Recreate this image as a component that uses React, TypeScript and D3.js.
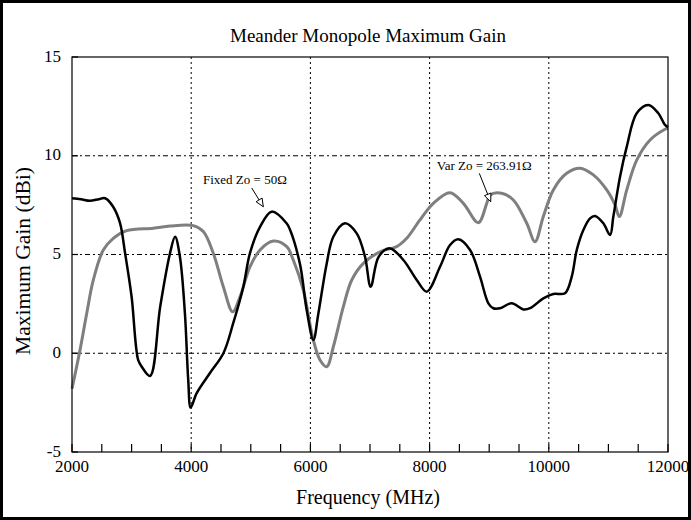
import React from "react";
import * as d3 from "d3";

// ---- data ----
const fixedFreq = [2000, 2150, 2300, 2450, 2555, 2690, 2805, 2890, 3000, 3110, 3170, 3310, 3480, 3645, 3730, 3810, 3895, 3950, 3992, 4090, 4315, 4540, 4705, 4875, 4985, 5155, 5350, 5600, 5660, 5826, 5938, 6050, 6133, 6274, 6385, 6580, 6777, 6916, 7012, 7146, 7336, 7560, 7784, 7952, 8175, 8343, 8482, 8679, 8846, 8986, 9069, 9181, 9378, 9573, 9685, 9908, 10076, 10272, 10385, 10469, 10580, 10692, 10776, 10915, 11028, 11083, 11195, 11308, 11475, 11670, 11838, 11950, 12000];
const fixedGain = [7.85, 7.8, 7.72, 7.8, 7.85, 7.42, 6.6, 5.08, 2.86, -0.34, -0.68, -1.15, 2.36, 5.07, 5.9, 4.9, 2.0, -1.35, -2.75, -2.03, -1.0, 0.0, 1.52, 3.37, 5.06, 6.4, 7.17, 6.58, 6.24, 4.5, 2.19, 0.67, 2.0, 4.55, 5.9, 6.58, 6.07, 4.89, 3.37, 4.89, 5.31, 4.72, 3.71, 3.12, 4.38, 5.48, 5.77, 5.23, 3.88, 2.53, 2.28, 2.28, 2.53, 2.22, 2.28, 2.78, 3.0, 3.04, 3.88, 5.23, 6.24, 6.83, 6.95, 6.58, 5.99, 6.92, 8.94, 10.46, 12.15, 12.57, 12.15, 11.56, 11.45];

const varFreq = [2000, 2134, 2246, 2358, 2525, 2693, 2917, 3364, 3644, 4035, 4203, 4371, 4539, 4696, 4819, 4987, 5155, 5378, 5603, 5713, 5881, 6049, 6161, 6274, 6385, 6553, 6694, 6889, 7168, 7448, 7616, 7839, 8062, 8343, 8566, 8818, 8959, 9014, 9209, 9405, 9630, 9769, 9908, 10076, 10300, 10524, 10747, 10972, 11111, 11183, 11308, 11475, 11699, 11950, 12000];
const varGain = [-1.8, 0.16, 2.0, 3.71, 5.23, 5.82, 6.21, 6.33, 6.44, 6.46, 6.16, 5.06, 3.37, 2.1, 2.86, 4.38, 5.23, 5.68, 5.4, 4.72, 3.2, 0.67, -0.34, -0.68, 0.33, 2.36, 3.71, 4.55, 5.14, 5.4, 5.82, 6.75, 7.59, 8.13, 7.59, 6.61, 7.59, 8.01, 8.1, 7.76, 6.58, 5.65, 6.92, 8.27, 9.11, 9.37, 9.03, 8.27, 7.51, 6.92, 8.27, 9.78, 10.8, 11.34, 11.4];

const xMajorTicks = [2000, 4000, 6000, 8000, 10000, 12000];
const xMinorTicks = d3.range(2000, 12001, 500);
const yTicks = [-5, 0, 5, 10, 15];
const xGrid = [4000, 6000, 8000, 10000];
const yGrid = [0, 5, 10];

const title = "Meander Monopole Maximum Gain";
const xLabel = "Frequency (MHz)";
const yLabel = "Maximum Gain (dBi)";

// annotations in data coordinates
const annotations = [
  { text: "Fixed Zo = 50\u03A9", tx: 4198, ty: 8.57, fx: 5015, fy: 8.37, ex: 5210, ey: 7.42 },
  { text: "Var Zo = 263.91\u03A9", tx: 8119, ty: 9.28, fx: 8834, fy: 9.11, ex: 9025, ey: 7.67 },
];

const W = 691, H = 520;
const M = { left: 72, right: 668, top: 57, bottom: 452 };
const FONT = "'Liberation Serif', 'Times New Roman', serif";

export default function App() {
  const x = d3.scaleLinear().domain([2000, 12000]).range([M.left, M.right]);
  const y = d3.scaleLinear().domain([-5, 15]).range([M.bottom, M.top]);

  const mk = (fs: number[], gs: number[]) =>
    d3
      .line<number>()
      .x((_, i) => x(fs[i]))
      .y((_, i) => y(gs[i]))
      .curve(d3.curveCatmullRom.alpha(0.5))(fs as any) as string;

  const fixedPath = mk(fixedFreq, fixedGain);
  const varPath = mk(varFreq, varGain);

  const arrowHead = (x1: number, y1: number, x2: number, y2: number) => {
    const ang = Math.atan2(y2 - y1, x2 - x1);
    const L = 8, Wd = 3.5;
    const bx = x2 - L * Math.cos(ang), by = y2 - L * Math.sin(ang);
    const px = -Math.sin(ang) * Wd, py = Math.cos(ang) * Wd;
    return `${x2},${y2} ${bx + px},${by + py} ${bx - px},${by - py}`;
  };

  return (
    <svg
      width={W}
      height={H}
      style={{ position: "fixed", left: 0, top: 0, background: "#fff" }}
      fontFamily={FONT}
    >
      <rect x={0} y={0} width={W} height={H} fill="#fff" />
      <rect x={1.5} y={1.5} width={W - 3} height={H - 3} fill="none" stroke="#000" strokeWidth={3} />

      <text x={368} y={35} textAnchor="middle" dominantBaseline="central" fontSize={19}>
        {title}
      </text>

      {/* grid */}
      {yGrid.map((v) => (
        <line key={"gy" + v} x1={M.left} x2={M.right} y1={y(v)} y2={y(v)} stroke="#000" strokeWidth={1} strokeDasharray="5,3,2,3" />
      ))}
      {xGrid.map((v) => (
        <line key={"gx" + v} x1={x(v)} x2={x(v)} y1={M.top} y2={M.bottom} stroke="#000" strokeWidth={1} strokeDasharray="2,3" />
      ))}

      {/* curves */}
      <path d={varPath} fill="none" stroke="#7f7f7f" strokeWidth={3} strokeLinejoin="round" />
      <path d={fixedPath} fill="none" stroke="#000" strokeWidth={2.5} strokeLinejoin="round" />

      {/* frame */}
      <rect x={M.left} y={M.top} width={M.right - M.left} height={M.bottom - M.top} fill="none" stroke="#000" strokeWidth={1.2} />

      {/* ticks */}
      {xMinorTicks.map((v) => (
        <line key={"xt" + v} x1={x(v)} x2={x(v)} y1={M.bottom} y2={M.bottom - 8} stroke="#000" strokeWidth={1.2} />
      ))}
      {yTicks.map((v) => (
        <line key={"yt" + v} x1={M.left} x2={M.left + 6} y1={y(v)} y2={y(v)} stroke="#000" strokeWidth={1.2} />
      ))}

      {xMajorTicks.map((v) => (
        <text key={"xl" + v} x={x(v)} y={466} textAnchor="middle" dominantBaseline="central" fontSize={17}>
          {v}
        </text>
      ))}
      {yTicks.map((v) => (
        <text key={"yl" + v} x={61} y={y(v) - 1} textAnchor="end" dominantBaseline="central" fontSize={17}>
          {v}
        </text>
      ))}

      <text x={368} y={497} textAnchor="middle" dominantBaseline="central" fontSize={20}>
        {xLabel}
      </text>
      <text
        transform={`translate(23, 261) rotate(-90)`}
        textAnchor="middle"
        dominantBaseline="central"
        fontSize={20}
        textLength={188}
        lengthAdjust="spacingAndGlyphs"
      >
        {yLabel}
      </text>

      {/* annotations */}
      {annotations.map((a) => {
        const x1 = x(a.fx), y1 = y(a.fy), x2 = x(a.ex), y2 = y(a.ey);
        return (
          <g key={a.text}>
            <text x={x(a.tx)} y={y(a.ty)} fontSize={13}>
              {a.text}
            </text>
            <line x1={x1} y1={y1} x2={x2} y2={y2} stroke="#000" strokeWidth={1} />
            <polygon points={arrowHead(x1, y1, x2, y2)} fill="#fff" stroke="#000" strokeWidth={1} />
          </g>
        );
      })}
    </svg>
  );
}
